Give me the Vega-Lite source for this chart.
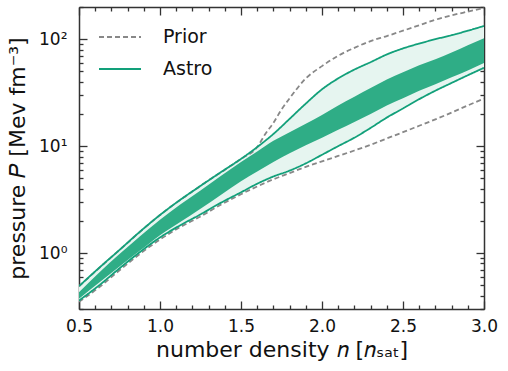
{
  "$schema": "https://vega.github.io/schema/vega-lite/v6.json",
  "autosize": "none",
  "width": 405,
  "height": 302,
  "padding": {"left": 79, "top": 7, "right": 24, "bottom": 62},
  "background": "white",
  "config": {
    "font": "DejaVu Sans",
    "view": {"stroke": null},
    "axis": {"domainColor": "#333", "domainWidth": 1.5, "tickColor": "#333", "tickWidth": 1.3, "grid": false, "labelColor": "#111", "titleColor": "#111", "labelFont": "DejaVu Sans", "titleFont": "DejaVu Sans", "titleFontWeight": "normal", "zindex": 1}
  },
  "datasets": {
    "bands": [
      {"n": 0.5, "ou": 0.49, "dt": 0.43, "db": 0.375, "ol": 0.36},
      {"n": 0.625, "ou": 0.73, "dt": 0.66, "db": 0.53, "ol": 0.5},
      {"n": 0.75, "ou": 1.07, "dt": 0.98, "db": 0.75, "ol": 0.72},
      {"n": 0.875, "ou": 1.58, "dt": 1.43, "db": 1.05, "ol": 1.02},
      {"n": 1.0, "ou": 2.27, "dt": 2.05, "db": 1.47, "ol": 1.4},
      {"n": 1.125, "ou": 3.15, "dt": 2.85, "db": 1.95, "ol": 1.82},
      {"n": 1.25, "ou": 4.25, "dt": 3.85, "db": 2.6, "ol": 2.3},
      {"n": 1.375, "ou": 5.7, "dt": 5.25, "db": 3.5, "ol": 2.95},
      {"n": 1.5, "ou": 7.6, "dt": 7.1, "db": 4.7, "ol": 3.7},
      {"n": 1.6, "ou": 9.8, "dt": 8.9, "db": 5.8, "ol": 4.45},
      {"n": 1.7, "ou": 13, "dt": 11.2, "db": 7.1, "ol": 5.2},
      {"n": 1.8, "ou": 18, "dt": 13.5, "db": 8.6, "ol": 5.9},
      {"n": 1.9, "ou": 25, "dt": 16.2, "db": 10.2, "ol": 6.9},
      {"n": 2.0, "ou": 34, "dt": 19.5, "db": 12.0, "ol": 8.3},
      {"n": 2.1, "ou": 43, "dt": 24, "db": 14.2, "ol": 10.0},
      {"n": 2.2, "ou": 52, "dt": 29, "db": 16.8, "ol": 12.0},
      {"n": 2.3, "ou": 61, "dt": 35, "db": 20, "ol": 14.8},
      {"n": 2.4, "ou": 72, "dt": 42, "db": 24, "ol": 18.5},
      {"n": 2.5, "ou": 82, "dt": 49, "db": 28, "ol": 22.5},
      {"n": 2.6, "ou": 91, "dt": 57, "db": 33, "ol": 27.5},
      {"n": 2.7, "ou": 100, "dt": 65, "db": 38, "ol": 33},
      {"n": 2.8, "ou": 109, "dt": 75, "db": 44, "ol": 39},
      {"n": 2.9, "ou": 120, "dt": 88, "db": 51, "ol": 46},
      {"n": 3.0, "ou": 133, "dt": 102, "db": 60, "ol": 54}
    ],
    "prior": [
      {"n": 0.5, "P": 0.49, "curve": "Prior upper", "src": "Prior"},
      {"n": 0.75, "P": 1.07, "curve": "Prior upper", "src": "Prior"},
      {"n": 1.0, "P": 2.27, "curve": "Prior upper", "src": "Prior"},
      {"n": 1.25, "P": 4.25, "curve": "Prior upper", "src": "Prior"},
      {"n": 1.5, "P": 7.6, "curve": "Prior upper", "src": "Prior"},
      {"n": 1.6, "P": 9.8, "curve": "Prior upper", "src": "Prior"},
      {"n": 1.65, "P": 13, "curve": "Prior upper", "src": "Prior"},
      {"n": 1.7, "P": 16.5, "curve": "Prior upper", "src": "Prior"},
      {"n": 1.75, "P": 22, "curve": "Prior upper", "src": "Prior"},
      {"n": 1.8, "P": 28, "curve": "Prior upper", "src": "Prior"},
      {"n": 1.9, "P": 43, "curve": "Prior upper", "src": "Prior"},
      {"n": 2.0, "P": 56, "curve": "Prior upper", "src": "Prior"},
      {"n": 2.1, "P": 70, "curve": "Prior upper", "src": "Prior"},
      {"n": 2.2, "P": 83, "curve": "Prior upper", "src": "Prior"},
      {"n": 2.3, "P": 96, "curve": "Prior upper", "src": "Prior"},
      {"n": 2.4, "P": 107, "curve": "Prior upper", "src": "Prior"},
      {"n": 2.5, "P": 120, "curve": "Prior upper", "src": "Prior"},
      {"n": 2.6, "P": 135, "curve": "Prior upper", "src": "Prior"},
      {"n": 2.7, "P": 152, "curve": "Prior upper", "src": "Prior"},
      {"n": 2.8, "P": 167, "curve": "Prior upper", "src": "Prior"},
      {"n": 2.9, "P": 181, "curve": "Prior upper", "src": "Prior"},
      {"n": 3.0, "P": 196, "curve": "Prior upper", "src": "Prior"},
      {"n": 0.5, "P": 0.35, "curve": "Prior lower", "src": "Prior"},
      {"n": 0.625, "P": 0.48, "curve": "Prior lower", "src": "Prior"},
      {"n": 0.75, "P": 0.69, "curve": "Prior lower", "src": "Prior"},
      {"n": 0.875, "P": 0.98, "curve": "Prior lower", "src": "Prior"},
      {"n": 1.0, "P": 1.34, "curve": "Prior lower", "src": "Prior"},
      {"n": 1.125, "P": 1.75, "curve": "Prior lower", "src": "Prior"},
      {"n": 1.25, "P": 2.2, "curve": "Prior lower", "src": "Prior"},
      {"n": 1.375, "P": 2.83, "curve": "Prior lower", "src": "Prior"},
      {"n": 1.5, "P": 3.55, "curve": "Prior lower", "src": "Prior"},
      {"n": 1.6, "P": 4.2, "curve": "Prior lower", "src": "Prior"},
      {"n": 1.7, "P": 4.9, "curve": "Prior lower", "src": "Prior"},
      {"n": 1.8, "P": 5.6, "curve": "Prior lower", "src": "Prior"},
      {"n": 1.9, "P": 6.4, "curve": "Prior lower", "src": "Prior"},
      {"n": 2.0, "P": 7.2, "curve": "Prior lower", "src": "Prior"},
      {"n": 2.1, "P": 8.1, "curve": "Prior lower", "src": "Prior"},
      {"n": 2.2, "P": 9.1, "curve": "Prior lower", "src": "Prior"},
      {"n": 2.3, "P": 10.3, "curve": "Prior lower", "src": "Prior"},
      {"n": 2.4, "P": 11.8, "curve": "Prior lower", "src": "Prior"},
      {"n": 2.5, "P": 13.5, "curve": "Prior lower", "src": "Prior"},
      {"n": 2.6, "P": 15.5, "curve": "Prior lower", "src": "Prior"},
      {"n": 2.7, "P": 17.8, "curve": "Prior lower", "src": "Prior"},
      {"n": 2.8, "P": 20.6, "curve": "Prior lower", "src": "Prior"},
      {"n": 2.9, "P": 24, "curve": "Prior lower", "src": "Prior"},
      {"n": 3.0, "P": 27.8, "curve": "Prior lower", "src": "Prior"}
    ],
    "astro": [
      {"n": 0.5, "P": 0.49, "curve": "Astro upper", "src": "Astro"},
      {"n": 0.625, "P": 0.73, "curve": "Astro upper", "src": "Astro"},
      {"n": 0.75, "P": 1.07, "curve": "Astro upper", "src": "Astro"},
      {"n": 0.875, "P": 1.58, "curve": "Astro upper", "src": "Astro"},
      {"n": 1.0, "P": 2.27, "curve": "Astro upper", "src": "Astro"},
      {"n": 1.125, "P": 3.15, "curve": "Astro upper", "src": "Astro"},
      {"n": 1.25, "P": 4.25, "curve": "Astro upper", "src": "Astro"},
      {"n": 1.375, "P": 5.7, "curve": "Astro upper", "src": "Astro"},
      {"n": 1.5, "P": 7.6, "curve": "Astro upper", "src": "Astro"},
      {"n": 1.6, "P": 9.8, "curve": "Astro upper", "src": "Astro"},
      {"n": 1.7, "P": 13, "curve": "Astro upper", "src": "Astro"},
      {"n": 1.8, "P": 18, "curve": "Astro upper", "src": "Astro"},
      {"n": 1.9, "P": 25, "curve": "Astro upper", "src": "Astro"},
      {"n": 2.0, "P": 34, "curve": "Astro upper", "src": "Astro"},
      {"n": 2.1, "P": 43, "curve": "Astro upper", "src": "Astro"},
      {"n": 2.2, "P": 52, "curve": "Astro upper", "src": "Astro"},
      {"n": 2.3, "P": 61, "curve": "Astro upper", "src": "Astro"},
      {"n": 2.4, "P": 72, "curve": "Astro upper", "src": "Astro"},
      {"n": 2.5, "P": 82, "curve": "Astro upper", "src": "Astro"},
      {"n": 2.6, "P": 91, "curve": "Astro upper", "src": "Astro"},
      {"n": 2.7, "P": 100, "curve": "Astro upper", "src": "Astro"},
      {"n": 2.8, "P": 109, "curve": "Astro upper", "src": "Astro"},
      {"n": 2.9, "P": 120, "curve": "Astro upper", "src": "Astro"},
      {"n": 3.0, "P": 133, "curve": "Astro upper", "src": "Astro"},
      {"n": 0.5, "P": 0.36, "curve": "Astro lower", "src": "Astro"},
      {"n": 0.625, "P": 0.5, "curve": "Astro lower", "src": "Astro"},
      {"n": 0.75, "P": 0.72, "curve": "Astro lower", "src": "Astro"},
      {"n": 0.875, "P": 1.02, "curve": "Astro lower", "src": "Astro"},
      {"n": 1.0, "P": 1.4, "curve": "Astro lower", "src": "Astro"},
      {"n": 1.125, "P": 1.82, "curve": "Astro lower", "src": "Astro"},
      {"n": 1.25, "P": 2.3, "curve": "Astro lower", "src": "Astro"},
      {"n": 1.375, "P": 2.95, "curve": "Astro lower", "src": "Astro"},
      {"n": 1.5, "P": 3.7, "curve": "Astro lower", "src": "Astro"},
      {"n": 1.6, "P": 4.45, "curve": "Astro lower", "src": "Astro"},
      {"n": 1.7, "P": 5.2, "curve": "Astro lower", "src": "Astro"},
      {"n": 1.8, "P": 5.9, "curve": "Astro lower", "src": "Astro"},
      {"n": 1.9, "P": 6.9, "curve": "Astro lower", "src": "Astro"},
      {"n": 2.0, "P": 8.3, "curve": "Astro lower", "src": "Astro"},
      {"n": 2.1, "P": 10.0, "curve": "Astro lower", "src": "Astro"},
      {"n": 2.2, "P": 12.0, "curve": "Astro lower", "src": "Astro"},
      {"n": 2.3, "P": 14.8, "curve": "Astro lower", "src": "Astro"},
      {"n": 2.4, "P": 18.5, "curve": "Astro lower", "src": "Astro"},
      {"n": 2.5, "P": 22.5, "curve": "Astro lower", "src": "Astro"},
      {"n": 2.6, "P": 27.5, "curve": "Astro lower", "src": "Astro"},
      {"n": 2.7, "P": 33, "curve": "Astro lower", "src": "Astro"},
      {"n": 2.8, "P": 39, "curve": "Astro lower", "src": "Astro"},
      {"n": 2.9, "P": 46, "curve": "Astro lower", "src": "Astro"},
      {"n": 3.0, "P": 54, "curve": "Astro lower", "src": "Astro"}
    ]
  },
  "layer": [
    {
      "data": {"name": "bands"},
      "mark": {"type": "area", "color": "#e6f5f0", "interpolate": "monotone", "clip": true},
      "encoding": {
        "x": {"field": "n", "type": "quantitative", "scale": {"domain": [0.5, 3.0], "nice": false, "zero": false},
          "axis": {"orient": "bottom", "title": "number density 𝑛 [𝑛ₛₐₜ]", "titleFontSize": 22, "titlePadding": 5,
            "values": [0.5, 1.0, 1.5, 2.0, 2.5, 3.0], "format": ".1f", "ticks": false,
            "labelFontSize": 17, "labelPadding": 9, "labelFlush": false, "labelOverlap": false}},
        "y": {"field": "ou", "type": "quantitative", "scale": {"type": "log", "domain": [0.3, 200], "nice": false},
          "axis": {"orient": "left", "title": "pressure 𝑃 [Mev fm⁻³]", "titleFontSize": 22, "titlePadding": 9,
            "values": [1, 10, 100], "ticks": false,
            "labelExpr": "datum.value == 1 ? '10⁰' : datum.value == 10 ? '10¹' : '10²'",
            "labelFontSize": 17, "labelPadding": 12, "labelOverlap": false, "labelFlush": false}},
        "y2": {"field": "ol"}
      }
    },
    {
      "data": {"name": "bands"},
      "mark": {"type": "area", "color": "#2fad86", "interpolate": "monotone", "clip": true},
      "encoding": {
        "x": {"field": "n", "type": "quantitative",
          "axis": {"orient": "top", "title": null, "labels": false, "ticks": false, "values": [1.0]}},
        "y": {"field": "dt", "type": "quantitative",
          "axis": {"orient": "right", "title": null, "labels": false, "ticks": false, "values": [1]}},
        "y2": {"field": "db"}
      }
    },
    {
      "data": {"name": "prior"},
      "mark": {"type": "line", "strokeWidth": 1.8, "interpolate": "monotone", "clip": true},
      "encoding": {
        "x": {"field": "n", "type": "quantitative",
          "axis": {"orient": "top", "offset": -302, "title": null, "labels": false, "domain": false,
            "values": [0.5,0.6,0.7,0.8,0.9,1.0,1.1,1.2,1.3,1.4,1.5,1.6,1.7,1.8,1.9,2.0,2.1,2.2,2.3,2.4,2.5,2.6,2.7,2.8,2.9,3.0],
            "tickSize": {"condition": {"test": "datum.value*2 == round(datum.value*2)", "value": 8}, "value": 4}}},
        "y": {"field": "P", "type": "quantitative",
          "axis": {"orient": "right", "offset": -405, "title": null, "labels": false, "domain": false,
            "values": [0.3,0.4,0.5,0.6,0.7,0.8,0.9,1,2,3,4,5,6,7,8,9,10,20,30,40,50,60,70,80,90,100,200],
            "tickSize": {"condition": {"test": "datum.value == 1 || datum.value == 10 || datum.value == 100", "value": 8}, "value": 4}}},
        "detail": {"field": "curve"},
        "color": {"field": "src", "type": "nominal", "scale": {"domain": ["Prior", "Astro"], "range": ["#888888", "#12a07a"]},
          "legend": {"title": null, "orient": "none", "legendX": 19, "legendY": 8, "symbolType": "stroke", "symbolSize": 1764, "symbolStrokeWidth": 1.8, "labelFontSize": 19, "labelFont": "DejaVu Sans", "labelOffset": 21, "rowPadding": -6, "labelColor": "#111"}},
        "strokeDash": {"field": "src", "type": "nominal", "scale": {"domain": ["Prior", "Astro"], "range": [[5, 3], [1, 0]]}, "legend": {"title": null}}
      }
    },
    {
      "data": {"name": "astro"},
      "mark": {"type": "line", "strokeWidth": 1.8, "interpolate": "monotone", "clip": true},
      "encoding": {
        "x": {"field": "n", "type": "quantitative",
          "axis": {"orient": "bottom", "offset": -302, "title": null, "labels": false, "domain": false,
            "values": [0.5,0.6,0.7,0.8,0.9,1.0,1.1,1.2,1.3,1.4,1.5,1.6,1.7,1.8,1.9,2.0,2.1,2.2,2.3,2.4,2.5,2.6,2.7,2.8,2.9,3.0],
            "tickSize": {"condition": {"test": "datum.value*2 == round(datum.value*2)", "value": 8}, "value": 4}}},
        "y": {"field": "P", "type": "quantitative",
          "axis": {"orient": "left", "offset": -405, "title": null, "labels": false, "domain": false,
            "values": [0.3,0.4,0.5,0.6,0.7,0.8,0.9,1,2,3,4,5,6,7,8,9,10,20,30,40,50,60,70,80,90,100,200],
            "tickSize": {"condition": {"test": "datum.value == 1 || datum.value == 10 || datum.value == 100", "value": 8}, "value": 4}}},
        "detail": {"field": "curve"},
        "color": {"field": "src", "type": "nominal"},
        "strokeDash": {"field": "src", "type": "nominal"}
      }
    }
  ],
  "resolve": {"axis": {"x": "independent", "y": "independent"}}
}
